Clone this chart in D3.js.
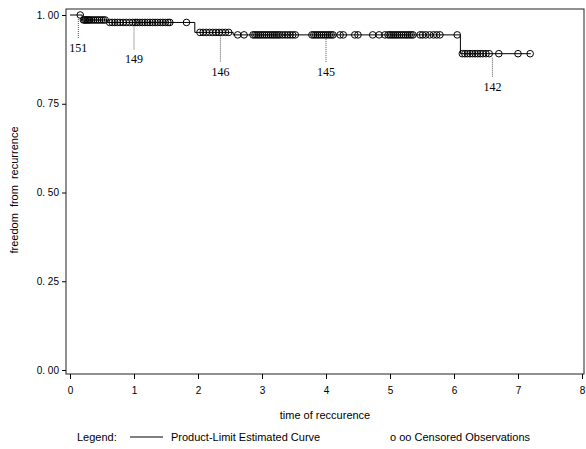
<!DOCTYPE html>
<html>
<head>
<meta charset="utf-8">
<script src="https://cdn.jsdelivr.net/npm/d3@7"></script>
<style>
  body { margin: 0; background: #fff; }
</style>
</head>
<body>
<script>
const WIDTH = 586;
const HEIGHT = 449;

// step curve: time of each drop and survival after it
var stepTimes = [0, 0.19, 0.58, 1.95, 2.55, 6.1];
var stepSurv = [1.0, 0.986, 0.979, 0.951, 0.944, 0.891];
var endTime = 7.2;

// censored observations
var censored = [0.16,
    0.21, 0.23, 0.25, 0.27, 0.29, 0.31, 0.34, 0.37, 0.40, 0.43, 0.46, 0.49, 0.52, 0.55,
    0.62, 0.66, 0.70, 0.74, 0.78, 0.83, 0.88, 0.93, 0.98, 1.02, 1.05, 1.09, 1.13, 1.17,
    1.21, 1.25, 1.29, 1.33, 1.37, 1.41, 1.45, 1.49, 1.53, 1.56, 1.82,
    2.03, 2.08, 2.13, 2.18, 2.23, 2.28, 2.33, 2.38, 2.43, 2.48,
    2.62, 2.72, 2.86, 2.89, 2.92, 2.95, 2.98, 3.01, 3.04, 3.07, 3.10, 3.13, 3.16, 3.19,
    3.22, 3.25, 3.28, 3.32, 3.36, 3.40, 3.44, 3.48, 3.52,
    3.78, 3.81, 3.84, 3.87, 3.90, 3.93, 3.96, 3.99, 4.02, 4.05, 4.08, 4.11,
    4.22, 4.27, 4.45, 4.50, 4.73, 4.83, 4.92,
    4.97, 5.00, 5.03, 5.06, 5.09, 5.12, 5.15, 5.18, 5.21, 5.24, 5.27, 5.30, 5.33, 5.36,
    5.47, 5.51, 5.56, 5.62, 5.68, 5.73, 5.78, 6.05,
    6.13, 6.17, 6.21, 6.25, 6.29, 6.33, 6.37, 6.41, 6.45, 6.50, 6.55, 6.70, 7.00, 7.19];

// numbers at risk annotations
var riskTimes = [0.13, 1.0, 2.35, 4.0, 6.6];
var riskLabels = ["151", "149", "146", "145", "142"];

var xTicks = [0, 1, 2, 3, 4, 5, 6, 7, 8];
var yTicks = [0, 0.25, 0.5, 0.75, 1.0];
var yTickLabels = ["0. 00", "0. 25", "0. 50", "0. 75", "1. 00"];

var svg = d3.select("body").append("svg")
    .attr("width", WIDTH)
    .attr("height", HEIGHT);

var x = d3.scaleLinear().domain([0, 8]).range([70, 582]);
var y = d3.scaleLinear().domain([0, 1]).range([370, 15]);

// frame edges
var frameL = 66, frameB = 374, frameT = 9, frameR = 584;
// how far below the curve each at-risk label sits
var riskDrop = [36, 40, 43, 40, 36];

const SANS = "'Liberation Sans', Arial, sans-serif";
const SERIF = "'Liberation Serif', 'Times New Roman', serif";

// plot frame
svg.append("rect")
    .attr("x", frameL).attr("y", frameT)
    .attr("width", frameR - frameL).attr("height", frameB - frameT)
    .attr("fill", "none").attr("stroke", "#222").attr("stroke-width", 1);

// y axis
svg.append("g")
    .attr("transform", "translate(" + frameL + ",0)")
    .call(d3.axisLeft(y).tickValues(yTicks).tickSize(4).tickPadding(3)
        .tickFormat(function (d, i) { return yTickLabels[i]; }))
    .call(function (g) {
        g.select(".domain").remove();
        g.selectAll("text").attr("font-size", 10).attr("font-family", SANS);
    });

// x axis
svg.append("g")
    .attr("transform", "translate(0," + frameB + ")")
    .call(d3.axisBottom(x).tickValues(xTicks).tickSize(5).tickPadding(8))
    .call(function (g) {
        g.select(".domain").remove();
        g.selectAll("text").attr("font-size", 10).attr("font-family", SANS);
    });

// step line
var pts = [];
stepTimes.forEach(function (t, i) {
    pts.push([t, stepSurv[i]]);
    var next = i + 1 < stepTimes.length ? stepTimes[i + 1] : endTime;
    pts.push([next, stepSurv[i]]);
});
svg.append("path")
    .attr("d", d3.line().x(function (d) { return x(d[0]); }).y(function (d) { return y(d[1]); })(pts))
    .attr("fill", "none").attr("stroke", "#000").attr("stroke-width", 1);

function survAt(t) {
    var s = 1;
    for (let i = 0; i < stepTimes.length; i++) {
        if (t >= stepTimes[i]) s = stepSurv[i];
    }
    return s;
}

// censored circles
svg.append("g").selectAll("circle")
    .data(censored)
    .join("circle")
    .attr("cx", function (d) { return x(d); })
    .attr("cy", function (d) { return y(survAt(d)); })
    .attr("r", 3.3)
    .attr("fill", "none")
    .attr("stroke", "#000")
    .attr("stroke-width", 1);

// at-risk labels
riskTimes.forEach(function (t, i) {
    var y0 = y(survAt(t)) + 4;
    svg.append("line")
        .attr("x1", x(t)).attr("x2", x(t))
        .attr("y1", y0).attr("y2", y0 + riskDrop[i] - 17)
        .attr("stroke", "#555").attr("stroke-dasharray", "1,1");
    svg.append("text")
        .attr("x", x(t)).attr("y", y0 + riskDrop[i] - 3)
        .attr("text-anchor", "middle")
        .attr("font-family", SERIF)
        .attr("font-size", 12)
        .text(riskLabels[i]);
});

// axis titles
svg.append("text")
    .attr("x", 325).attr("y", 419)
    .attr("text-anchor", "middle")
    .attr("font-family", SANS)
    .attr("font-size", 11)
    .text("time of reccurence");

svg.append("text")
    .attr("transform", "translate(18,190) rotate(-90)")
    .attr("text-anchor", "middle")
    .attr("font-family", SANS)
    .attr("font-size", 11)
    .attr("word-spacing", 3)
    .text("freedom from recurrence");

// legend
svg.append("text").attr("x", 77).attr("y", 441).attr("font-family", SANS).attr("font-size", 11).text("Legend:");
svg.append("line").attr("x1", 130).attr("x2", 163).attr("y1", 437).attr("y2", 437)
    .attr("stroke", "#000").attr("stroke-width", 1);
svg.append("text").attr("x", 171).attr("y", 441).attr("font-family", SANS).attr("font-size", 11).text("Product-Limit Estimated Curve");
svg.append("text").attr("x", 390).attr("y", 441).attr("font-family", SANS).attr("font-size", 11).text("o oo Censored Observations");
</script>
</body>
</html>
